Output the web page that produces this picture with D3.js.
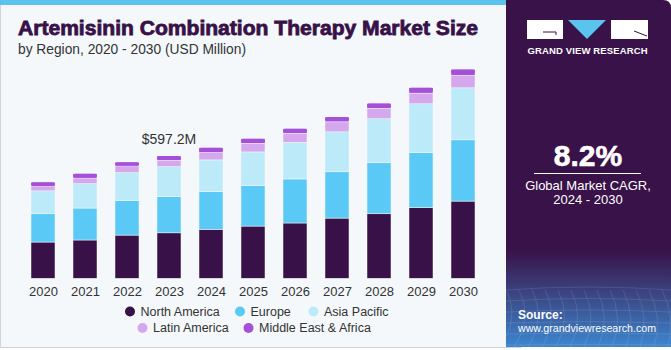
<!DOCTYPE html>
<html>
<head>
<meta charset="utf-8">
<script src="https://cdn.jsdelivr.net/npm/d3@7"></script>
<style>
  body { margin: 0; background: #fff; }
  svg { display: block; font-family: "Liberation Sans", Arial, sans-serif; }
</style>
</head>
<body>
<svg id="chart" width="671" height="350"></svg>
<script>
const years = ["2020", "2021", "2022", "2023", "2024", "2025", "2026", "2027", "2028", "2029", "2030"];
const northAmerica = [177, 187, 211, 222, 239, 255, 270, 294, 315, 345, 377];
const europe = [138, 156, 168, 177, 184, 197, 215, 226, 249, 269, 299];
const asiaPacific = [112, 119, 137, 146, 155, 165, 179, 195, 215, 238, 254];
const latinAmerica = [24, 28, 33, 31, 36, 42, 44, 49, 51, 52, 61];
const middleEast = [18, 20, 18, 21, 23, 22, 22, 23, 24, 26, 29];

const seriesNames = ["North America", "Europe", "Asia Pacific", "Latin America", "Middle East & Africa"];
const colors = ["#371147", "#5bc9f5", "#bdeaf9", "#d5a8ee", "#a550d9"];
const labelYear = "2023";
const labelText = "$597.2M";

const svg = d3.select("#chart");

// background panel
svg.append("rect").attr("x", 0).attr("y", 0).attr("width", 671).attr("height", 350).attr("fill", "#ffffff");
svg.append("rect").attr("x", 0.5).attr("y", 0.5).attr("width", 520).attr("height", 347)
  .attr("fill", "#f4f8fb").attr("stroke", "#d0d4d8");
svg.append("rect").attr("x", 0).attr("y", 0).attr("width", 510).attr("height", 5).attr("fill", "#5bc4ee");

// right panel
const defs = svg.append("defs");
const grad = defs.append("linearGradient").attr("id", "panelGrad")
  .attr("x1", 0).attr("y1", 0).attr("x2", 0).attr("y2", 1);
grad.append("stop").attr("offset", "0%").attr("stop-color", "#391249");
grad.append("stop").attr("offset", "72%").attr("stop-color", "#391249");
grad.append("stop").attr("offset", "82%").attr("stop-color", "#3a3a75");
grad.append("stop").attr("offset", "100%").attr("stop-color", "#3d86cf");

svg.append("path")
  .attr("d", "M506,0 H663 Q671,0 671,8 V347 H506 Z")
  .attr("fill", "url(#panelGrad)");

// grid texture at bottom of panel
const gridG = svg.append("g").attr("opacity", 0.18).attr("stroke", "#ffffff").attr("stroke-width", 0.6).attr("fill", "none");
d3.range(0, 14).forEach(i => {
  gridG.append("path").attr("d", `M${506 + i * 13},290 Q${520 + i * 13},318 ${500 + i * 14},347`);
});
d3.range(0, 6).forEach(i => {
  gridG.append("path").attr("d", `M506,${290 + i * 11} Q588,${284 + i * 12} 671,${290 + i * 11}`);
});

// logo
const logo = svg.append("g");
logo.append("rect").attr("x", 527).attr("y", 20).attr("width", 36).attr("height", 19).attr("fill", "#ffffff");
logo.append("path").attr("d", "M543,32 H556 V35").attr("stroke", "#391249").attr("stroke-width", 1).attr("fill", "none");
logo.append("path").attr("d", "M568,20 H606 L587,39 Z").attr("fill", "#5bc4ee");
logo.append("rect").attr("x", 611).attr("y", 20).attr("width", 37).attr("height", 19).attr("fill", "#ffffff");
logo.append("path").attr("d", "M634,31 L647,36").attr("stroke", "#391249").attr("stroke-width", 1);
logo.append("text").attr("x", 587.5).attr("y", 54).attr("text-anchor", "middle")
  .attr("fill", "#ffffff").style("font-size", "9.5px").style("font-weight", "bold")
  .attr("textLength", 120).attr("lengthAdjust", "spacing")
  .text("GRAND VIEW RESEARCH");

// CAGR
svg.append("text").attr("x", 588).attr("y", 166).attr("text-anchor", "middle")
  .attr("fill", "#ffffff").attr("stroke", "#ffffff").attr("stroke-width", 0.6)
  .style("font-size", "30px").style("font-weight", "bold").text("8.2%");
svg.append("line").attr("x1", 534).attr("x2", 641).attr("y1", 173.5).attr("y2", 173.5)
  .attr("stroke", "#ffffff").attr("stroke-width", 1);
svg.append("text").attr("x", 588).attr("y", 190).attr("text-anchor", "middle")
  .attr("fill", "#ffffff").style("font-size", "13px").text("Global Market CAGR,");
svg.append("text").attr("x", 588).attr("y", 204).attr("text-anchor", "middle")
  .attr("fill", "#ffffff").style("font-size", "13px").text("2024 - 2030");

// source
svg.append("text").attr("x", 518).attr("y", 319).attr("fill", "#ffffff")
  .style("font-size", "12px").style("font-weight", "bold").text("Source:");
svg.append("text").attr("x", 518).attr("y", 332).attr("fill", "#ffffff")
  .style("font-size", "11.5px").attr("textLength", 138).attr("lengthAdjust", "spacingAndGlyphs")
  .text("www.grandviewresearch.com");

// title
svg.append("text").attr("x", 18).attr("y", 35).attr("fill", "#371147")
  .attr("stroke", "#371147").attr("stroke-width", 0.8)
  .style("font-size", "20px").style("font-weight", "bold")
  .attr("textLength", 460).attr("lengthAdjust", "spacingAndGlyphs")
  .text("Artemisinin Combination Therapy Market Size");
svg.append("text").attr("x", 18).attr("y", 54).attr("fill", "#333333")
  .style("font-size", "14px")
  .attr("textLength", 228).attr("lengthAdjust", "spacingAndGlyphs")
  .text("by Region, 2020 - 2030 (USD Million)");

// chart
const rows = years.map((yr, i) => ({
  year: yr,
  "North America": northAmerica[i],
  "Europe": europe[i],
  "Asia Pacific": asiaPacific[i],
  "Latin America": latinAmerica[i],
  "Middle East & Africa": middleEast[i]
}));

const layers = d3.stack().keys(seriesNames)(rows);

const x = d3.scalePoint().domain(years).range([43, 463]);
const barW = 24;
const y = d3.scaleLinear().domain([0, 850]).range([278.3, 104.2]);

const g = svg.append("g");
g.selectAll("g.layer")
  .data(layers)
  .enter()
  .append("g")
  .attr("class", "layer")
  .attr("fill", (d, i) => colors[i])
  .selectAll("rect")
  .data(d => d)
  .enter()
  .append("rect")
  .attr("x", d => x(d.data.year) - barW / 2)
  .attr("y", d => y(d[1]))
  .attr("width", barW)
  .attr("height", d => y(d[0]) - y(d[1]))
  .attr("stroke", "#f4f8fb")
  .attr("stroke-width", 0.5);

// rounded caps on top segment
g.selectAll("rect.cap")
  .data(layers[layers.length - 1])
  .enter()
  .append("rect")
  .attr("class", "cap")
  .attr("x", d => x(d.data.year) - barW / 2)
  .attr("y", d => y(d[1]))
  .attr("width", barW)
  .attr("height", d => Math.min(4, y(d[0]) - y(d[1])))
  .attr("rx", 2)
  .attr("fill", colors[4]);

// x axis
const xAxis = svg.append("g")
  .attr("transform", "translate(0,278.3)")
  .call(d3.axisBottom(x).tickSize(0).tickPadding(8));
xAxis.select(".domain").remove();
xAxis.selectAll("text")
  .style("font-size", "13px")
  .style("font-family", "Liberation Sans, Arial, sans-serif")
  .attr("fill", "#333333");

// value label
const idx = years.indexOf(labelYear);
const topVal = layers[layers.length - 1][idx][1];
svg.append("text")
  .attr("x", x(labelYear))
  .attr("y", y(topVal) - 12)
  .attr("text-anchor", "middle")
  .attr("fill", "#333333")
  .style("font-size", "14px")
  .text(labelText);

// legend
const legendPos = [
  { cx: 130, row: 0 }, { cx: 240, row: 0 }, { cx: 313.5, row: 0 },
  { cx: 142.5, row: 1 }, { cx: 248.5, row: 1 }
];
const legend = svg.selectAll(".legend")
  .data(seriesNames)
  .enter()
  .append("g")
  .attr("class", "legend")
  .attr("transform", (d, i) => `translate(${legendPos[i].cx}, ${311.5 + legendPos[i].row * 16.5})`);

legend.append("circle").attr("r", 5).attr("fill", (d, i) => colors[i]);
legend.append("text")
  .attr("x", 10.5)
  .attr("y", 4.3)
  .style("font-size", "12.5px")
  .attr("fill", "#333333")
  .text(d => d);
</script>
</body>
</html>
